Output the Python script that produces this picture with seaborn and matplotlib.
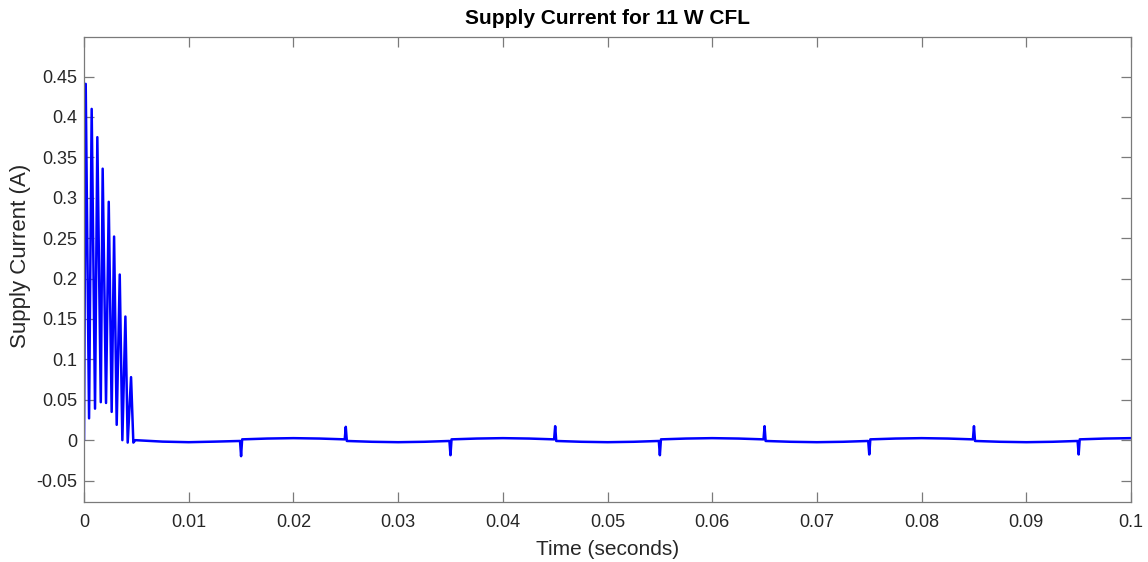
import numpy as np
import pandas as pd
import matplotlib
matplotlib.use("Agg")
import matplotlib.pyplot as plt
import seaborn as sns

# Start-up burst of the 11 W CFL supply current (first 5 ms)
burst_t = [0.0, 0.00016, 0.00048, 0.00073, 0.00105, 0.00127, 0.0016, 0.00178,
           0.0021, 0.00236, 0.00264, 0.00287, 0.00312, 0.00341, 0.00366, 0.00395,
           0.00417, 0.00449, 0.00471, 0.0049]
burst_i = [0.0, 0.441, 0.027, 0.41, 0.039, 0.375, 0.047, 0.336,
           0.046, 0.295, 0.035, 0.252, 0.019, 0.205, 0.0, 0.153,
           -0.003, 0.078, -0.003, 0.0]

# Steady-state baseline between the switching spikes
base_t = [0.0075, 0.010, 0.0125, 0.0149,
          0.0151, 0.0175, 0.020, 0.0225, 0.0249,
          0.0251, 0.0275, 0.030, 0.0325, 0.0349,
          0.0351, 0.0375, 0.040, 0.0425, 0.0449,
          0.0451, 0.0475, 0.050, 0.0525, 0.0549,
          0.0551, 0.0575, 0.060, 0.0625, 0.0649,
          0.0651, 0.0675, 0.070, 0.0725, 0.0749,
          0.0751, 0.0775, 0.080, 0.0825, 0.0849,
          0.0851, 0.0875, 0.090, 0.0925, 0.0949,
          0.0951, 0.0975, 0.100]
base_i = [-0.0018, -0.0025, -0.0018, -0.001,
          0.001, 0.002, 0.0025, 0.002, 0.001,
          -0.001, -0.002, -0.0025, -0.002, -0.001,
          0.001, 0.002, 0.0025, 0.002, 0.001,
          -0.001, -0.002, -0.0025, -0.002, -0.001,
          0.001, 0.002, 0.0025, 0.002, 0.001,
          -0.001, -0.002, -0.0025, -0.002, -0.001,
          0.001, 0.002, 0.0025, 0.002, 0.001,
          -0.001, -0.002, -0.0025, -0.002, -0.001,
          0.001, 0.002, 0.0025]

# Switching spikes
spike_t = [0.015, 0.025, 0.035, 0.045, 0.055, 0.065, 0.075, 0.085, 0.095]
spike_i = [-0.0198, 0.0165, -0.0186, 0.0173, -0.0186, 0.0173, -0.0177, 0.0173, -0.0177]

x_ticks = [0, 0.01, 0.02, 0.03, 0.04, 0.05, 0.06, 0.07, 0.08, 0.09, 0.1]
x_tick_labels = ["0", "0.01", "0.02", "0.03", "0.04", "0.05", "0.06", "0.07", "0.08", "0.09", "0.1"]
y_ticks = [-0.05, 0, 0.05, 0.1, 0.15, 0.2, 0.25, 0.3, 0.35, 0.4, 0.45]
y_tick_labels = ["-0.05", "0", "0.05", "0.1", "0.15", "0.2", "0.25", "0.3", "0.35", "0.4", "0.45"]

df = pd.DataFrame({
    "t": burst_t + base_t + spike_t,
    "i": burst_i + base_i + spike_i,
}).sort_values("t")

sns.set_style("white")
plt.rcParams["font.family"] = ["Liberation Sans", "DejaVu Sans"]

axis_grey = "#7a7a7a"
text_dark = "#262626"

fig = plt.figure(figsize=(11.48, 5.62), dpi=100)
ax = fig.add_axes([0.0732, 0.1068, 0.912, 0.8274])

sns.lineplot(data=df, x="t", y="i", ax=ax, color="#0000ff", linewidth=1.8,
             estimator=None, sort=False)

ax.set_xlim(0, 0.1)
ax.set_ylim(-0.0765, 0.499)
ax.set_xticks(x_ticks)
ax.set_xticklabels(x_tick_labels)
ax.set_yticks(y_ticks)
ax.set_yticklabels(y_tick_labels)

ax.tick_params(axis="both", which="both", direction="in", length=7, width=0.9,
               color=axis_grey, labelcolor=text_dark, labelsize=13,
               top=True, right=True, bottom=True, left=True)
ax.tick_params(axis="x", pad=9)
ax.tick_params(axis="y", pad=5)
for sp in ax.spines.values():
    sp.set_visible(True)
    sp.set_color(axis_grey)
    sp.set_linewidth(0.9)

ax.set_title("Supply Current for 11 W CFL", fontsize=15, fontweight="bold",
             color="black", pad=9)
ax.set_xlabel("Time (seconds)", fontsize=15, color=text_dark, labelpad=6)
ax.set_ylabel("Supply Current (A)", fontsize=16, color=text_dark)
ax.yaxis.set_label_coords(-0.051, 0.53)

fig.savefig("out.png", dpi=100)
